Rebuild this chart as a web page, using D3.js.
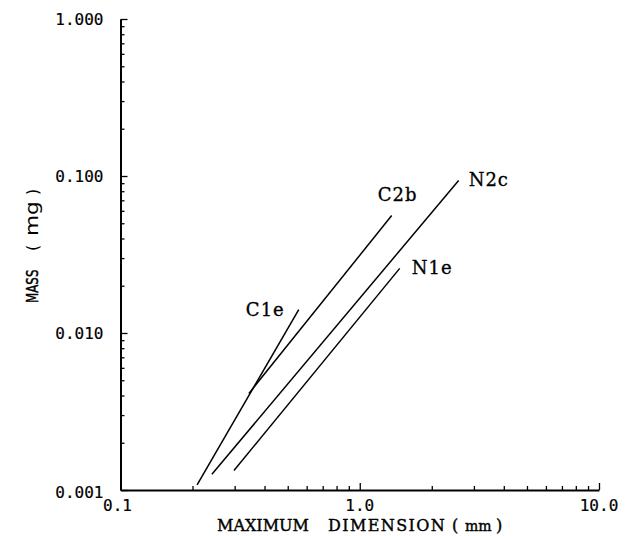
<!DOCTYPE html>
<html>
<head>
<meta charset="utf-8">
<script src="https://cdn.jsdelivr.net/npm/d3@7"></script>
<style>
    body { margin: 0; background: #fff; }
    svg { display: block; }
</style>
</head>
<body>
<div id="container"></div>
<script>
window.onload = function() {
    'use strict';

    // each curve: [x (mm), mass (mg)] end points
    const seriesNames = ['C1e', 'C2b', 'N2c', 'N1e'];
    const c1e = [[0.209, 0.00108], [0.556, 0.0141]];
    const c2b = [[0.344, 0.00412], [1.36, 0.056]];
    const n2c = [[0.241, 0.00126], [2.59, 0.0936]];
    const n1e = [[0.298, 0.00133], [1.469, 0.0258]];

    const xDecades = [0.1, 1, 10];
    const yDecades = [0.001, 0.01, 0.1, 1];
    const xTickLabels = ['0.1', '1.0', '10.0'];
    const yTickLabels = ['0.001', '0.010', '0.100', '1.000'];

    const canvas = { width: 628, height: 536 };
    const margin = { top: 19, right: 29, bottom: 46, left: 120.5 };

    const svg = d3.select('#container')
        .append('svg')
        .attr('width', canvas.width)
        .attr('height', canvas.height);

    const x = d3.scaleLog()
        .domain([0.1, 10])
        .range([margin.left, canvas.width - margin.right]);

    const y = d3.scaleLog()
        .domain([0.001, 1])
        .range([canvas.height - margin.bottom, margin.top]);

    function minorTicks(decades) {
        let t = [];
        for (let i = 0 ; i < decades.length - 1 ; i ++) {
            for (let k = 1 ; k < 10 ; k ++) t.push(decades[i] * k);
        }
        t.push(decades[decades.length - 1]);
        return t;
    }

    function isMajor(v, decades) {
        return decades.some(d => Math.abs(v / d - 1) < 1e-6);
    }

    // x axis, ticks inside
    const xAxis = d3.axisBottom(x)
        .tickValues(minorTicks(xDecades))
        .tickSizeOuter(0)
        .tickFormat(() => '');
    const gx = svg.append('g')
        .attr('transform', 'translate(0,' + y(0.001) + ')')
        .call(xAxis);
    gx.select('.domain').attr('stroke-width', 2);
    gx.selectAll('.tick line')
        .attr('y2', d => isMajor(d, xDecades) ? -7 : -4)
        .attr('stroke-width', 1.3);

    // y axis, ticks inside
    const yAxis = d3.axisLeft(y)
        .tickValues(minorTicks(yDecades))
        .tickSizeOuter(0)
        .tickFormat(() => '');
    const gy = svg.append('g')
        .attr('transform', 'translate(' + x(0.1) + ',0)')
        .call(yAxis);
    gy.select('.domain').attr('stroke-width', 2);
    gy.selectAll('.tick line')
        .attr('x2', d => isMajor(d, yDecades) ? 7 : 4)
        .attr('stroke-width', 1.3);

    const tickFont = '"DejaVu Sans Mono", monospace';
    const serifFont = '"DejaVu Serif", serif';

    svg.selectAll('.xlab')
        .data(xDecades)
        .enter().append('text')
        .attr('x', (d, i) => x(d) - (i == 0 ? 3 : 0))
        .attr('y', y(0.001) + 21)
        .attr('text-anchor', 'middle')
        .attr('font-family', tickFont)
        .attr('font-size', 16)
        .attr('stroke', '#000')
        .attr('stroke-width', 0.2)
        .text((d, i) => xTickLabels[i]);

    svg.selectAll('.ylab')
        .data(yDecades)
        .enter().append('text')
        .attr('x', x(0.1) - 17)
        .attr('y', (d, i) => y(d) + (i == 0 ? 8 : 6))
        .attr('text-anchor', 'end')
        .attr('font-family', tickFont)
        .attr('font-size', 16)
        .attr('stroke', '#000')
        .attr('stroke-width', 0.2)
        .text((d, i) => yTickLabels[i]);

    // x title, pieces placed one by one like the plotter did: [text, x, letter spacing]
    [['MAXIMUM', 217, 0], ['DIMENSION', 328, 1.4], ['(', 452, 0], ['mm', 465, 0], [')', 496, 0]].forEach(w => {
        svg.append('text')
            .attr('x', w[1])
            .attr('y', 531)
            .attr('font-family', serifFont)
            .attr('font-size', w[0] == 'mm' ? 14 : 16)
            .attr('letter-spacing', w[2])
            .attr('stroke', '#000')
            .attr('stroke-width', 0.4)
            .text(w[0]);
    });

    // y title: [text, start y, size, horizontal squeeze]
    [['MASS', 303, 16.5, 0.72], ['(', 251, 16, 1], ['mg', 236, 18, 1.2], [')', 195, 16, 1]].forEach(w => {
        svg.append('text')
            .attr('transform', 'translate(38,' + w[1] + ') rotate(-90) scale(' + w[3] + ',1)')
            .attr('font-family', '"DejaVu Sans", sans-serif')
            .attr('font-size', w[2])
            .attr('stroke', '#000')
            .attr('stroke-width', w[0] == 'MASS' ? 0.5 : 0)
            .text(w[0]);
    });

    const line = d3.line()
        .x(d => x(d[0]))
        .y(d => y(d[1]));

    const allSeries = [c1e, c2b, n2c, n1e];
    // where each name sits relative to the top end of its line (px)
    const labelOffset = {
        C1e: { dx: -14, dy: 6, anchor: 'end' },
        C2b: { dx: -14, dy: -15, anchor: 'start' },
        N2c: { dx: 10, dy: 5, anchor: 'start' },
        N1e: { dx: 12, dy: 6, anchor: 'start' }
    };

    allSeries.forEach((data, i) => {
        svg.append('path')
            .attr('d', line(data))
            .attr('fill', 'none')
            .attr('stroke', '#000')
            .attr('stroke-width', 1.5);

        let end = data[data.length - 1];
        let o = labelOffset[seriesNames[i]];
        svg.append('text')
            .attr('x', x(end[0]) + o.dx)
            .attr('y', y(end[1]) + o.dy)
            .attr('text-anchor', o.anchor)
            .attr('font-family', serifFont)
            .attr('font-size', 18)
            .attr('letter-spacing', 1)
            .attr('stroke', '#000')
            .attr('stroke-width', 0.3)
            .text(seriesNames[i]);
    });
}
</script>
</body>
</html>
